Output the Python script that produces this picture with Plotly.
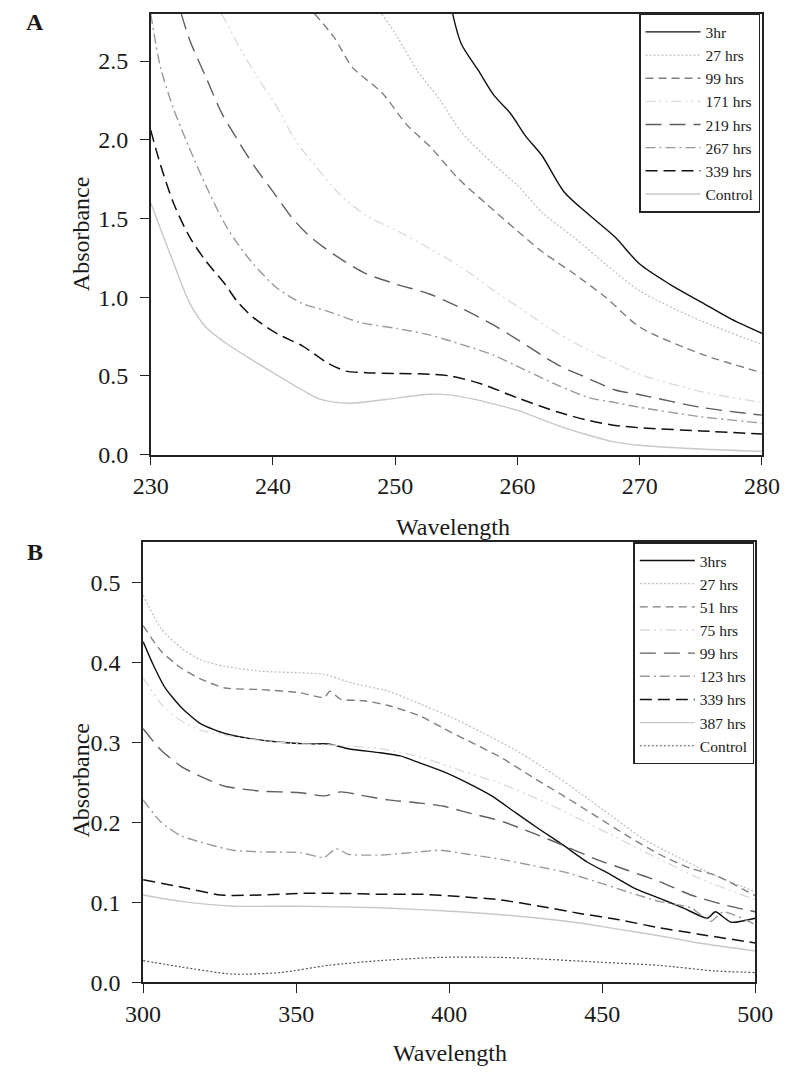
import plotly.graph_objects as go

# ---------------- Panel A data ----------------
a_3hr_x = [254.7, 255.4, 256.8, 258.1, 259.4, 260.7, 262.0, 263.8, 265.9, 268.0, 270.0, 272.5, 275.0, 277.5, 280.0]
a_3hr_y = [2.80, 2.61, 2.44, 2.28, 2.17, 2.02, 1.90, 1.67, 1.52, 1.38, 1.21, 1.08, 0.97, 0.86, 0.77]

a_27_x = [248.9, 250.2, 251.8, 253.6, 255.4, 258.1, 260.0, 262.0, 264.6, 267.2, 270.0, 275.0, 280.0]
a_27_y = [2.80, 2.65, 2.44, 2.26, 2.05, 1.84, 1.71, 1.54, 1.38, 1.21, 1.04, 0.85, 0.70]

a_99_x = [243.4, 245.0, 246.5, 248.9, 251.0, 252.8, 255.2, 257.5, 260.0, 262.0, 264.6, 267.2, 270.0, 275.0, 280.0]
a_99_y = [2.80, 2.65, 2.46, 2.30, 2.09, 1.96, 1.75, 1.59, 1.42, 1.29, 1.15, 1.00, 0.81, 0.64, 0.52]

a_171_x = [235.8, 237.1, 238.7, 240.3, 241.8, 243.4, 245.5, 247.6, 250.2, 252.8, 255.4, 258.1, 260.0, 263.3, 265.9, 268.0, 270.0, 275.0, 280.0]
a_171_y = [2.80, 2.61, 2.40, 2.21, 2.00, 1.84, 1.65, 1.52, 1.42, 1.31, 1.19, 1.04, 0.94, 0.77, 0.66, 0.58, 0.51, 0.40, 0.33]

a_219_x = [232.5, 233.2, 234.5, 235.8, 237.1, 238.4, 240.0, 241.6, 243.1, 245.0, 247.6, 250.2, 252.8, 255.4, 258.1, 260.0, 263.3, 265.9, 268.0, 270.0, 275.0, 280.0]
a_219_y = [2.80, 2.63, 2.40, 2.17, 2.00, 1.84, 1.67, 1.50, 1.38, 1.27, 1.15, 1.08, 1.02, 0.93, 0.82, 0.73, 0.57, 0.48, 0.41, 0.38, 0.30, 0.25]

a_267_x = [230.0, 230.8, 231.9, 233.2, 234.5, 236.1, 237.1, 238.4, 240.3, 242.4, 244.5, 247.1, 250.2, 252.8, 255.4, 258.1, 260.0, 263.3, 265.9, 268.0, 270.0, 275.0, 280.0]
a_267_y = [2.80, 2.46, 2.19, 1.94, 1.71, 1.46, 1.34, 1.21, 1.06, 0.96, 0.91, 0.84, 0.80, 0.76, 0.70, 0.63, 0.56, 0.44, 0.36, 0.33, 0.30, 0.24, 0.20]

a_339_x = [230.0, 230.8, 231.9, 233.2, 234.5, 236.1, 237.1, 238.4, 240.3, 242.4, 244.5, 246.0, 247.6, 250.2, 252.8, 254.4, 257.0, 260.0, 263.3, 265.9, 268.0, 270.0, 275.0, 280.0]
a_339_y = [2.06, 1.84, 1.59, 1.38, 1.23, 1.08, 0.97, 0.87, 0.77, 0.69, 0.58, 0.53, 0.52, 0.515, 0.51, 0.50, 0.45, 0.36, 0.27, 0.215, 0.185, 0.17, 0.15, 0.13]

a_ctl_x = [230.0, 231.9, 233.2, 234.5, 236.1, 237.9, 240.0, 242.4, 243.9, 246.3, 249.2, 252.8, 254.4, 256.5, 258.1, 260.0, 263.3, 265.9, 268.0, 270.0, 275.0, 280.0]
a_ctl_y = [1.60, 1.21, 0.96, 0.81, 0.71, 0.62, 0.52, 0.41, 0.35, 0.326, 0.35, 0.383, 0.379, 0.35, 0.32, 0.28, 0.184, 0.121, 0.079, 0.059, 0.035, 0.02]

# ---------------- Panel B data ----------------
b_3_x = [300, 303.3, 307.2, 312.4, 318.9, 326.7, 334.5, 344.9, 354.0, 360.5, 367.0, 377.5, 384.0, 390.5, 398.3, 406.1, 413.9, 421.7, 429.6, 437.4, 445.2, 453.0, 460.8, 468.6, 476.4, 484.3, 487.0, 492.1, 500]
b_3_y = [0.426, 0.397, 0.368, 0.344, 0.323, 0.311, 0.305, 0.300, 0.298, 0.298, 0.292, 0.287, 0.283, 0.274, 0.263, 0.249, 0.233, 0.212, 0.191, 0.171, 0.150, 0.134, 0.117, 0.105, 0.093, 0.080, 0.088, 0.075, 0.080]

b_27_x = [300, 305.9, 312.4, 318.9, 326.7, 338.4, 351.4, 359.2, 368.4, 380.1, 390.5, 400.9, 411.4, 421.8, 432.2, 442.6, 453.0, 463.5, 473.9, 484.3, 500]
b_27_y = [0.484, 0.442, 0.418, 0.403, 0.395, 0.389, 0.387, 0.385, 0.374, 0.364, 0.348, 0.331, 0.311, 0.290, 0.265, 0.237, 0.208, 0.179, 0.158, 0.138, 0.113]

b_51_x = [300, 305.9, 312.4, 318.9, 326.7, 338.4, 351.4, 359.2, 361.0, 364.5, 372.3, 380.1, 390.5, 398.4, 406.1, 416.5, 427.0, 437.4, 447.8, 458.2, 468.6, 479.0, 486.8, 500]
b_51_y = [0.446, 0.414, 0.393, 0.379, 0.368, 0.366, 0.362, 0.356, 0.364, 0.354, 0.352, 0.346, 0.333, 0.317, 0.302, 0.282, 0.257, 0.233, 0.208, 0.183, 0.160, 0.142, 0.134, 0.108]

b_75_x = [300, 305.9, 312.4, 318.9, 326.7, 338.4, 351.4, 364.5, 377.5, 390.5, 403.5, 416.5, 429.6, 442.6, 455.6, 468.6, 481.6, 500]
b_75_y = [0.381, 0.348, 0.327, 0.315, 0.309, 0.302, 0.298, 0.296, 0.292, 0.282, 0.265, 0.249, 0.228, 0.204, 0.179, 0.154, 0.130, 0.103]

b_99_x = [300, 305.9, 312.4, 318.9, 326.7, 338.4, 351.4, 359.2, 364.5, 372.3, 380.1, 390.5, 398.3, 406.1, 416.5, 427.0, 437.4, 447.8, 458.2, 468.6, 479.0, 489.5, 500]
b_99_y = [0.317, 0.290, 0.270, 0.257, 0.245, 0.239, 0.237, 0.233, 0.238, 0.233, 0.228, 0.224, 0.220, 0.212, 0.202, 0.187, 0.171, 0.154, 0.140, 0.126, 0.109, 0.097, 0.088]

b_123_x = [300, 305.9, 312.4, 318.9, 329.3, 338.4, 351.4, 359.2, 363.0, 367.0, 377.5, 390.5, 397.0, 406.1, 416.5, 427.0, 437.4, 447.8, 458.2, 468.6, 479.0, 485.5, 489.5, 500]
b_123_y = [0.228, 0.200, 0.183, 0.175, 0.165, 0.163, 0.162, 0.156, 0.167, 0.160, 0.159, 0.163, 0.165, 0.160, 0.154, 0.146, 0.138, 0.126, 0.113, 0.101, 0.093, 0.076, 0.088, 0.072]

b_339_x = [300, 312.4, 325.4, 338.4, 351.4, 364.5, 377.5, 390.5, 403.5, 416.5, 429.6, 442.6, 455.6, 468.6, 481.6, 500]
b_339_y = [0.128, 0.119, 0.109, 0.109, 0.111, 0.111, 0.110, 0.110, 0.107, 0.103, 0.095, 0.086, 0.078, 0.068, 0.060, 0.049]

b_387_x = [300, 312.4, 329.3, 351.4, 377.5, 403.5, 429.6, 442.6, 455.6, 468.6, 481.6, 500]
b_387_y = [0.109, 0.101, 0.095, 0.095, 0.093, 0.088, 0.080, 0.074, 0.066, 0.058, 0.049, 0.039]

b_ctl_x = [300, 312.4, 329.3, 344.9, 360.5, 377.5, 397.0, 416.5, 429.6, 449.0, 468.6, 486.8, 500]
b_ctl_y = [0.027, 0.019, 0.010, 0.012, 0.021, 0.027, 0.031, 0.031, 0.029, 0.025, 0.021, 0.014, 0.012]

a_xticks = [230, 240, 250, 260, 270, 280]
a_yticks = [0.0, 0.5, 1.0, 1.5, 2.0, 2.5]
b_xticks = [300, 350, 400, 450, 500]
b_yticks = [0.0, 0.1, 0.2, 0.3, 0.4, 0.5]

FONT = "Liberation Serif, Times New Roman, serif"
W, H = 800, 1091

def px_x(p):
    return p / W

def px_y(p):
    return 1 - p / H

fig = go.Figure()

styles = {
    "solid_black": ("#111111", "solid", 1.4),
    "dot_light": ("#bdbdbd", "2px,2px", 1.2),
    "dash_gray": ("#7f7f7f", "8px,5px", 1.4),
    "dashdotdot_vlight": ("#dcdcdc", "10px,4px,2px,4px,2px,4px", 1.4),
    "longdash_dark": ("#5e5e5e", "16px,8px", 1.4),
    "dashdot_gray": ("#9a9a9a", "10px,4px,2px,4px", 1.4),
    "dash_black": ("#111111", "12px,6px", 1.5),
    "solid_light": ("#c8c8c8", "solid", 1.4),
    "dot_dark": ("#555555", "2px,2px", 1.2),
}

a_series = [
    ("3hr", a_3hr_x, a_3hr_y, "solid_black"),
    ("27 hrs", a_27_x, a_27_y, "dot_light"),
    ("99 hrs", a_99_x, a_99_y, "dash_gray"),
    ("171 hrs", a_171_x, a_171_y, "dashdotdot_vlight"),
    ("219 hrs", a_219_x, a_219_y, "longdash_dark"),
    ("267 hrs", a_267_x, a_267_y, "dashdot_gray"),
    ("339 hrs", a_339_x, a_339_y, "dash_black"),
    ("Control", a_ctl_x, a_ctl_y, "solid_light"),
]
b_series = [
    ("3hrs", b_3_x, b_3_y, "solid_black"),
    ("27 hrs", b_27_x, b_27_y, "dot_light"),
    ("51 hrs", b_51_x, b_51_y, "dash_gray"),
    ("75 hrs", b_75_x, b_75_y, "dashdotdot_vlight"),
    ("99 hrs", b_99_x, b_99_y, "longdash_dark"),
    ("123 hrs", b_123_x, b_123_y, "dashdot_gray"),
    ("339 hrs", b_339_x, b_339_y, "dash_black"),
    ("387 hrs", b_387_x, b_387_y, "solid_light"),
    ("Control", b_ctl_x, b_ctl_y, "dot_dark"),
]

for name, xs, ys, st in a_series:
    c, d, w = styles[st]
    fig.add_trace(go.Scatter(x=xs, y=ys, name=name, mode="lines",
                             line=dict(color=c, dash=d, width=w, shape="spline", smoothing=0.8),
                             xaxis="x", yaxis="y", legend="legend"))
for name, xs, ys, st in b_series:
    c, d, w = styles[st]
    fig.add_trace(go.Scatter(x=xs, y=ys, name=name, mode="lines",
                             line=dict(color=c, dash=d, width=w, shape="spline", smoothing=0.6),
                             xaxis="x2", yaxis="y2", legend="legend2"))

axis_common = dict(showline=True, linecolor="#222222", linewidth=1.5, mirror=True,
                   ticks="outside", ticklen=9, tickwidth=1.3, tickcolor="#222222",
                   showgrid=False, zeroline=False,
                   tickfont=dict(family=FONT, size=24, color="#1a1a1a"))

fig.update_layout(
    width=W, height=H,
    margin=dict(l=0, r=0, t=0, b=0),
    paper_bgcolor="white", plot_bgcolor="white",
    font=dict(family=FONT, color="#1a1a1a"),
    xaxis=dict(domain=[px_x(139), px_x(779)], range=[230, 280], tickvals=a_xticks,
               anchor="y", **axis_common),
    yaxis=dict(domain=[px_y(460), px_y(14)], range=[0, 2.8], tickvals=a_yticks,
               tickformat=".1f", anchor="x", ticklabelstandoff=7, **axis_common),
    xaxis2=dict(domain=[px_x(131), px_x(772)], range=[300, 500], tickvals=b_xticks,
                anchor="y2", **axis_common),
    yaxis2=dict(domain=[px_y(994), px_y(549)], range=[0, 0.55], tickvals=b_yticks,
                tickformat=".1f", anchor="x2", ticklabelstandoff=7, **axis_common),
    legend=dict(x=px_x(777), y=px_y(14), xanchor="right", yanchor="top",
                bgcolor="white", bordercolor="#222222", borderwidth=1.5,
                font=dict(family=FONT, size=15.5, color="#1a1a1a"), itemwidth=55,
                tracegroupgap=0),
    legend2=dict(x=px_x(771), y=px_y(549), xanchor="right", yanchor="top",
                 bgcolor="white", bordercolor="#222222", borderwidth=1.5,
                 font=dict(family=FONT, size=15.5, color="#1a1a1a"), itemwidth=55,
                 tracegroupgap=0),
    showlegend=True,
)

ann = [
    dict(text="<b>A</b>", x=px_x(18), y=px_y(22), font=dict(size=24)),
    dict(text="<b>B</b>", x=px_x(18), y=px_y(559), font=dict(size=24)),
    dict(text="Absorbance", x=px_x(66), y=px_y(237), textangle=-90, font=dict(size=24)),
    dict(text="Absorbance", x=px_x(66), y=px_y(790), textangle=-90, font=dict(size=24)),
    dict(text="Wavelength", x=px_x(456), y=px_y(533), font=dict(size=24)),
    dict(text="Wavelength", x=px_x(452), y=px_y(1066), font=dict(size=24)),
]
for a in ann:
    a.update(xref="paper", yref="paper", showarrow=False, xanchor="center", yanchor="middle")
    a["font"].update(family=FONT, color="#1a1a1a")
    fig.add_annotation(**a)

fig.write_html("out.html", config={"displayModeBar": False},
               post_script="document.body.style.margin='0';document.body.style.overflow='hidden';")
